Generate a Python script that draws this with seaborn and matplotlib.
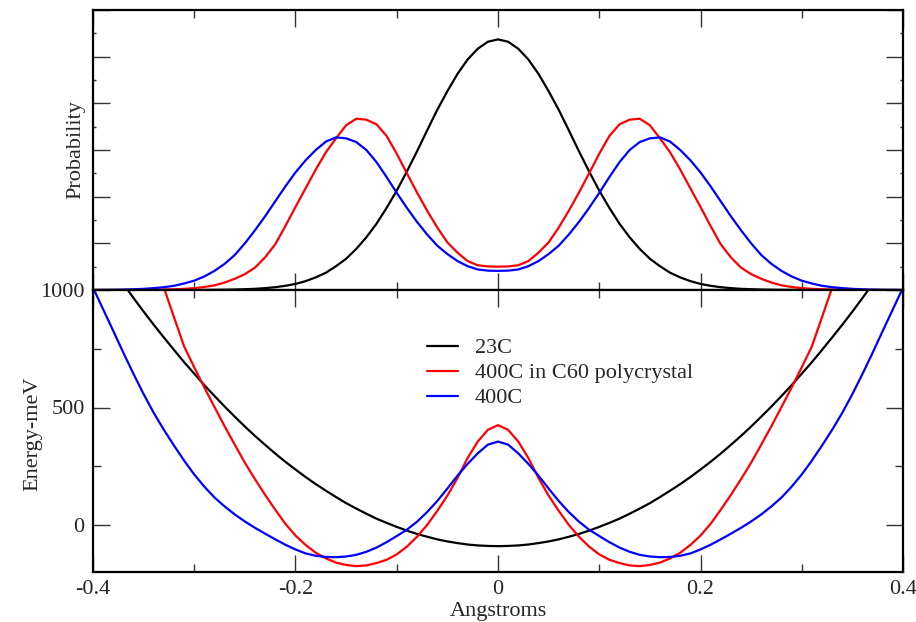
import matplotlib
matplotlib.use("Agg")
import matplotlib.pyplot as plt
from matplotlib.ticker import MultipleLocator, NullFormatter
import seaborn as sns

# --- data (x in Angstroms, 0.01 steps) ---
x = [-0.40, -0.39, -0.38, -0.37, -0.36, -0.35, -0.34, -0.33, -0.32, -0.31,
     -0.30, -0.29, -0.28, -0.27, -0.26, -0.25, -0.24, -0.23, -0.22, -0.21,
     -0.20, -0.19, -0.18, -0.17, -0.16, -0.15, -0.14, -0.13, -0.12, -0.11,
     -0.10, -0.09, -0.08, -0.07, -0.06, -0.05, -0.04, -0.03, -0.02, -0.01,
     0.00,
     0.01, 0.02, 0.03, 0.04, 0.05, 0.06, 0.07, 0.08, 0.09, 0.10,
     0.11, 0.12, 0.13, 0.14, 0.15, 0.16, 0.17, 0.18, 0.19, 0.20,
     0.21, 0.22, 0.23, 0.24, 0.25, 0.26, 0.27, 0.28, 0.29, 0.30,
     0.31, 0.32, 0.33, 0.34, 0.35, 0.36, 0.37, 0.38, 0.39, 0.40]

labels = ["23C", "400C in C60 polycrystal", "400C"]
colors = ["black", "red", "blue"]

# probability densities (arbitrary units)
prob_23c = [0, 0, 0, 0, 0, 0, 0, 0, 0, 0,
            0.001, 0.002, 0.004, 0.006, 0.01, 0.017, 0.025, 0.04, 0.06, 0.09,
            0.13, 0.19, 0.27, 0.37, 0.51, 0.67, 0.88, 1.13, 1.42, 1.76,
            2.13, 2.54, 2.97, 3.42, 3.86, 4.26, 4.63, 4.94, 5.17, 5.32,
            5.37,
            5.32, 5.17, 4.94, 4.63, 4.26, 3.86, 3.42, 2.97, 2.54, 2.13,
            1.76, 1.42, 1.13, 0.88, 0.67, 0.51, 0.37, 0.27, 0.19, 0.13,
            0.09, 0.06, 0.04, 0.025, 0.017, 0.01, 0.006, 0.004, 0.002, 0.001,
            0, 0, 0, 0, 0, 0, 0, 0, 0, 0]
prob_c60 = [0, 0, 0, 0, 0, 0.002, 0.005, 0.01, 0.015, 0.025,
            0.04, 0.065, 0.10, 0.16, 0.24, 0.34, 0.48, 0.70, 0.98, 1.37,
            1.78, 2.18, 2.58, 2.95, 3.25, 3.53, 3.67, 3.65, 3.55, 3.30,
            2.92, 2.50, 2.09, 1.70, 1.34, 1.02, 0.80, 0.62, 0.53, 0.505,
            0.50,
            0.505, 0.53, 0.62, 0.80, 1.02, 1.34, 1.70, 2.09, 2.50, 2.92,
            3.30, 3.55, 3.65, 3.67, 3.53, 3.25, 2.95, 2.58, 2.18, 1.78,
            1.37, 0.98, 0.70, 0.48, 0.34, 0.24, 0.16, 0.10, 0.065, 0.04,
            0.025, 0.015, 0.01, 0.005, 0.002, 0, 0, 0, 0, 0]
prob_400c = [0, 0.002, 0.004, 0.008, 0.015, 0.025, 0.04, 0.06, 0.09, 0.14,
             0.20, 0.29, 0.41, 0.56, 0.75, 1.00, 1.28, 1.58, 1.90, 2.22,
             2.52, 2.78, 3.00, 3.18, 3.27, 3.25, 3.17, 3.00, 2.74, 2.42,
             2.08, 1.76, 1.46, 1.19, 0.95, 0.77, 0.62, 0.51, 0.44, 0.415,
             0.41,
             0.415, 0.44, 0.51, 0.62, 0.77, 0.95, 1.19, 1.46, 1.76, 2.08,
             2.42, 2.74, 3.00, 3.17, 3.25, 3.27, 3.18, 3.00, 2.78, 2.52,
             2.22, 1.90, 1.58, 1.28, 1.00, 0.75, 0.56, 0.41, 0.29, 0.20,
             0.14, 0.09, 0.06, 0.04, 0.025, 0.015, 0.008, 0.004, 0.002, 0]

# potential energies (meV)
energy_23c = [1214, 1150, 1087, 1026, 966, 908, 852, 798, 745, 693,
              644, 595, 549, 504, 461, 419, 379, 341, 304, 269,
              236, 204, 174, 146, 119, 93, 70, 48, 27, 9,
              -8, -24, -38, -50, -61, -70, -77, -83, -87, -89,
              -90,
              -89, -87, -83, -77, -70, -61, -50, -38, -24, -8,
              9, 27, 48, 70, 93, 119, 146, 174, 204, 236,
              269, 304, 341, 379, 419, 461, 504, 549, 595, 644,
              693, 745, 798, 852, 908, 966, 1026, 1087, 1150, 1214]
energy_c60 = [2050, 1880, 1720, 1570, 1420, 1280, 1150, 1010, 884, 760,
              671, 585, 502, 420, 342, 265, 195, 128, 65, 5,
              -45, -85, -118, -142, -160, -170, -175, -172, -162, -148,
              -125, -92, -50, 0, 60, 125, 200, 285, 355, 405,
              425,
              405, 355, 285, 200, 125, 60, 0, -50, -92, -125,
              -148, -162, -172, -175, -170, -160, -142, -118, -85, -45,
              5, 65, 128, 195, 265, 342, 420, 502, 585, 671,
              760, 884, 1010, 1150, 1280, 1420, 1570, 1720, 1880, 2050]
energy_400c = [1010, 918, 826, 733, 643, 557, 477, 405, 338, 274,
               215, 163, 117, 79, 45, 15, -12, -37, -61, -84,
               -104, -121, -131, -136, -137, -134, -127, -114, -96, -73,
               -47, -20, 14, 55, 102, 155, 210, 260, 305, 342,
               355,
               342, 305, 260, 210, 155, 102, 55, 14, -20, -47,
               -73, -96, -114, -127, -134, -137, -136, -131, -121, -104,
               -84, -61, -37, -12, 15, 45, 79, 117, 163, 215,
               274, 338, 405, 477, 557, 643, 733, 826, 918, 1010]

probs = [prob_23c, prob_c60, prob_400c]
energies = [energy_23c, energy_c60, energy_400c]

# --- figure ---
sns.set_style("ticks")
plt.rcParams['font.family'] = ['Liberation Serif', 'DejaVu Serif']

fig = plt.figure(figsize=(9.16, 6.22), dpi=100)
ax_top = fig.add_axes([93 / 916, (622 - 290) / 622, 810 / 916, 280 / 622])
ax_bot = fig.add_axes([93 / 916, (622 - 572) / 622, 810 / 916, 282 / 622])

for p, c in zip(probs, colors):
    sns.lineplot(x=x, y=p, color=c, linewidth=1.6, ax=ax_top)

for e, c, lab in zip(energies, colors, labels):
    sns.lineplot(x=x, y=e, color=c, linewidth=1.6, label=lab, ax=ax_bot)

for ax in (ax_top, ax_bot):
    ax.set_xlim(-0.4, 0.4)
    ax.xaxis.set_major_locator(MultipleLocator(0.2))
    ax.xaxis.set_minor_locator(MultipleLocator(0.1))
    ax.tick_params(which='both', direction='in', top=True, right=True,
                   width=1, color='#333333', labelsize=16)
    ax.tick_params(which='major', length=12)
    ax.tick_params(which='minor', length=5.5)
    for sp in ax.spines.values():
        sp.set_linewidth(1.6)
        sp.set_color('black')

ax_top.set_ylim(0, 6)
ax_top.yaxis.set_major_locator(MultipleLocator(1))
ax_top.yaxis.set_minor_locator(MultipleLocator(0.5))
ax_top.tick_params(axis='y', which='minor', length=2.5)
ax_top.xaxis.set_major_formatter(NullFormatter())
ax_top.yaxis.set_major_formatter(NullFormatter())
ax_top.set_ylabel("Probability", fontsize=16)
ax_top.yaxis.set_label_coords(-0.01, 0.5)

ax_bot.set_ylim(-200, 1000)
ax_bot.yaxis.set_major_locator(MultipleLocator(500))
ax_bot.yaxis.set_minor_locator(MultipleLocator(250))
ax_bot.xaxis.set_major_formatter(lambda v, pos: "0" if abs(v) < 1e-9 else f"{v:g}")
ax_bot.set_ylabel("Energy-meV", fontsize=16)
ax_bot.yaxis.set_label_coords(-0.062, 0.49)
ax_bot.set_xlabel("Angstroms", fontsize=16)
ax_bot.xaxis.set_label_coords(0.5, -0.105)
ax_bot.tick_params(axis='both', pad=6)

ax_bot.legend(loc='upper left', bbox_to_anchor=(0.401, 0.862), frameon=False,
              fontsize=16, handlelength=1.4, handletextpad=0.77,
              labelspacing=0.2, borderaxespad=0)

fig.savefig("out.png", dpi=100)
